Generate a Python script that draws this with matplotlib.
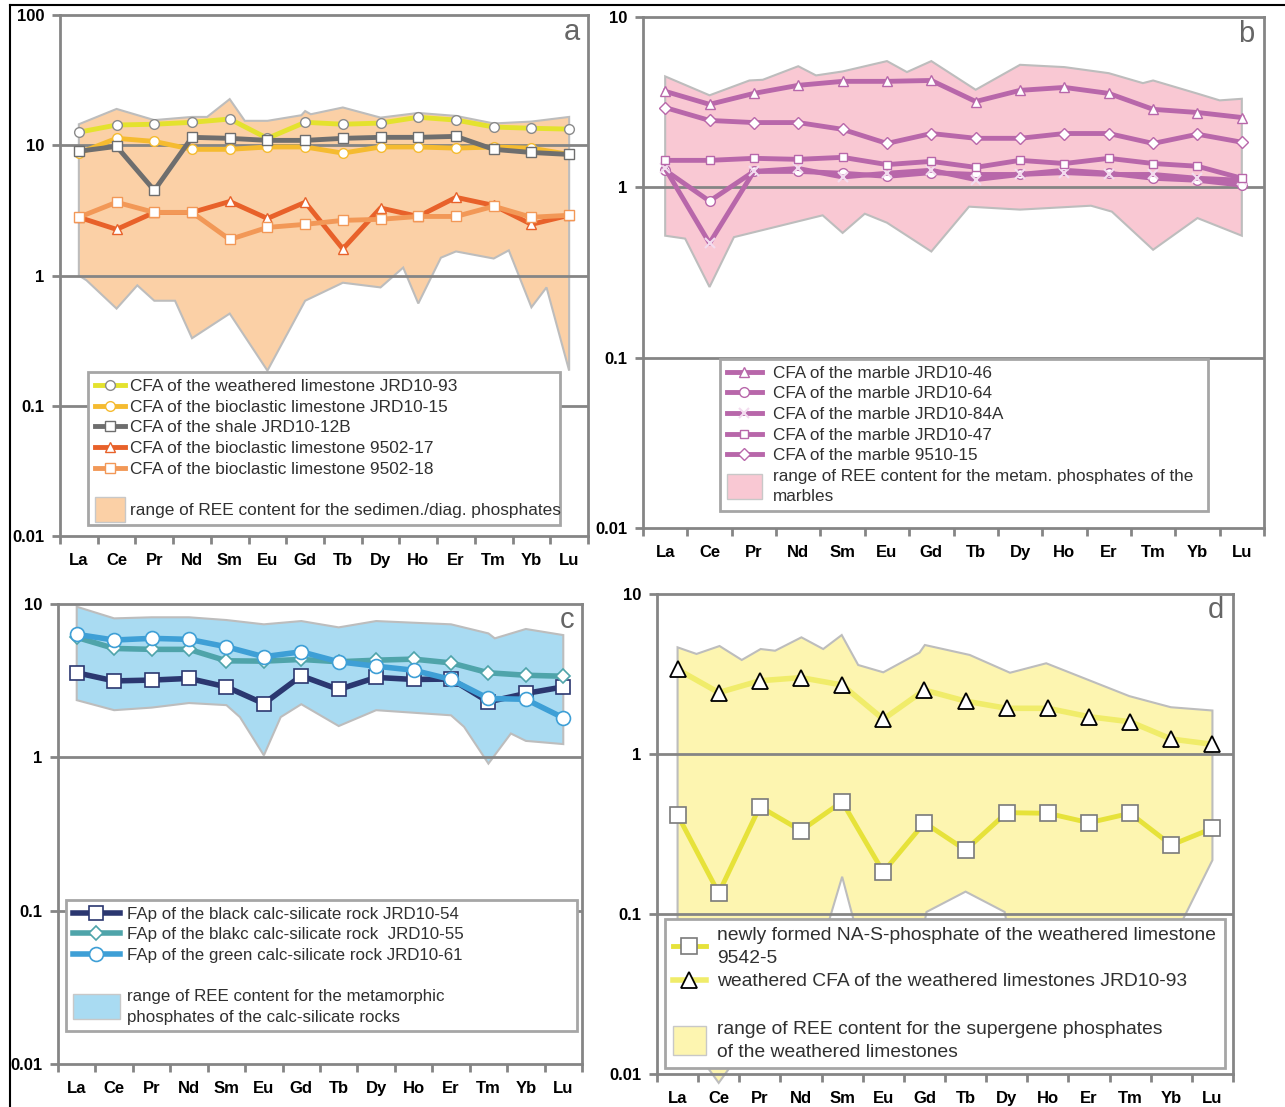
import numpy as np
import matplotlib.pyplot as plt
import matplotlib.patches as mpatches
from matplotlib.lines import Line2D
from matplotlib.legend_handler import HandlerPatch

plt.rcParams['font.family'] = ['Liberation Sans', 'DejaVu Sans']

W, H = 1285, 1107

ree = ['La', 'Ce', 'Pr', 'Nd', 'Sm', 'Eu', 'Gd', 'Tb', 'Dy', 'Ho', 'Er', 'Tm', 'Yb', 'Lu']

# panel a - sedimentary / diagenetic CFA
a_jrd10_93 = [12.6, 14.3, 14.5, 15.0, 15.9, 11.3, 15.0, 14.5, 14.8, 16.4, 15.6, 13.8, 13.5, 13.3]
a_jrd10_15 = [8.7, 11.3, 10.7, 9.3, 9.3, 9.7, 9.7, 8.7, 9.7, 9.7, 9.5, 9.7, 9.5, 8.5]
a_jrd10_12b = [9.0, 9.8, 4.5, 11.5, 11.3, 10.9, 10.9, 11.3, 11.5, 11.5, 11.7, 9.3, 8.8, 8.5]
a_9502_17 = [2.8, 2.26, 3.05, 3.05, 3.7, 2.74, 3.65, 1.6, 3.3, 2.84, 3.98, 3.45, 2.47, 2.9]
a_9502_18 = [2.8, 3.65, 3.05, 3.05, 1.89, 2.34, 2.47, 2.65, 2.7, 2.84, 2.84, 3.4, 2.8, 2.9]
a_up_x = [0, 1, 2, 3, 3.4, 4, 4.4, 5, 5.9, 6.0, 6.15, 7, 8, 9, 10, 11, 12, 13]
a_up = [14.5, 19.0, 15.6, 16.5, 16.5, 22.6, 15.4, 15.4, 17.0, 18.3, 17.3, 19.5, 16.3, 17.7, 16.8, 14.7, 15.2, 16.5]
a_lo_x = [0, 0.2, 1, 1.55, 2, 2.55, 3, 4, 5, 6, 7, 8, 8.6, 9, 9.6, 10, 11, 11.4, 12, 12.4, 13]
a_lo = [1.0, 0.92, 0.557, 0.84, 0.64, 0.64, 0.33, 0.51, 0.186, 0.64, 0.88, 0.81, 1.15, 0.61, 1.37,
        1.53, 1.35, 1.56, 0.57, 0.81, 0.186]

# panel b - marbles
b_jrd10_46 = [3.66, 3.07, 3.56, 3.97, 4.19, 4.19, 4.24, 3.19, 3.71, 3.86, 3.56, 2.87, 2.75, 2.57]
b_jrd10_64 = [1.26, 0.83, 1.24, 1.24, 1.21, 1.16, 1.22, 1.19, 1.19, 1.26, 1.21, 1.13, 1.10, 1.03]
b_jrd10_84a = [1.29, 0.47, 1.24, 1.29, 1.15, 1.21, 1.26, 1.11, 1.19, 1.22, 1.19, 1.19, 1.13, 1.10]
b_jrd10_47 = [1.44, 1.44, 1.48, 1.46, 1.50, 1.36, 1.42, 1.31, 1.44, 1.38, 1.48, 1.38, 1.33, 1.13]
b_9510_15 = [2.94, 2.47, 2.40, 2.40, 2.19, 1.81, 2.07, 1.94, 1.94, 2.07, 2.07, 1.81, 2.05, 1.84]
b_up_x = [0, 1, 1.9, 2.2, 3, 3.4, 4, 5, 5.45, 6, 7, 8, 9, 10, 10.77, 11, 12, 12.5, 13]
b_up = [4.48, 3.47, 4.24, 4.28, 5.14, 4.54, 4.79, 5.51, 4.75, 5.51, 3.74, 5.24, 5.08, 4.68, 4.09, 4.24,
        3.55, 3.24, 3.31]
b_lo_x = [0, 0.45, 1, 1.55, 3.55, 4, 4.5, 5, 6, 6.85, 8, 9.6, 10.07, 11, 12, 13]
b_lo = [0.52, 0.50, 0.26, 0.51, 0.685, 0.54, 0.70, 0.62, 0.42, 0.77, 0.74, 0.78, 0.72, 0.43, 0.66, 0.52]

# panel c - calc-silicate rocks
c_jrd10_54 = [3.56, 3.15, 3.19, 3.27, 2.88, 2.24, 3.40, 2.77, 3.32, 3.22, 3.24, 2.30, 2.61, 2.88]
c_jrd10_55 = [6.06, 5.13, 5.06, 5.06, 4.26, 4.24, 4.35, 4.20, 4.30, 4.37, 4.13, 3.56, 3.43, 3.38]
c_jrd10_61 = [6.34, 5.82, 5.97, 5.88, 5.26, 4.53, 4.88, 4.20, 3.93, 3.70, 3.22, 2.42, 2.39, 1.81]
c_up_x = [0, 1, 2, 3, 4, 5, 6, 7, 8, 9, 10, 11, 11.17, 12, 13]
c_up = [9.6, 8.06, 8.19, 8.19, 7.86, 7.37, 7.74, 7.04, 7.74, 7.55, 7.37, 6.43, 5.97, 6.87, 6.27]
c_lo_x = [0, 1, 2, 3, 4, 4.36, 5, 5.45, 6, 7, 8, 10, 10.35, 11, 11.6, 12, 13]
c_lo = [2.36, 2.03, 2.11, 2.26, 2.19, 1.83, 1.03, 1.83, 2.22, 1.60, 2.03, 1.88, 1.58, 0.91, 1.43, 1.28, 1.22]

# panel d - weathered limestones
d_jrd10_93 = [3.38, 2.42, 2.87, 3.0, 2.70, 1.65, 2.51, 2.14, 1.93, 1.93, 1.71, 1.59, 1.24, 1.15]
d_9542_5 = [0.416, 0.135, 0.469, 0.332, 0.503, 0.183, 0.372, 0.251, 0.430, 0.426, 0.372, 0.426, 0.27, 0.343]
d_up_x = [0, 0.46, 1.02, 1.56, 2.02, 2.37, 3.01, 3.54, 3.99, 4.39, 5.0, 5.88, 6.01, 7.1, 8.08, 8.96,
          10.98, 11.99, 13]
d_up = [4.64, 4.22, 4.73, 3.87, 4.53, 4.42, 5.36, 4.53, 5.54, 3.60, 3.24, 4.30, 4.80, 4.16, 3.22, 3.69,
        2.30, 1.96, 1.87]
d_lo_x = [0, 1, 2, 3.55, 4, 4.4, 5.93, 6.05, 7, 7.95, 8.07, 12.05, 13]
d_lo = [0.02, 0.0088, 0.02, 0.07, 0.171, 0.07, 0.07, 0.103, 0.138, 0.103, 0.07, 0.07, 0.217]

GRAY = '#858585'


def px_axes(l, r, t, b):
    return fig.add_axes([l / W, 1 - b / H, (r - l) / W, (b - t) / H])


def setup(ax, ymax, letter):
    x = np.arange(len(ree))
    ax.set_yscale('log')
    ax.set_ylim(0.01, ymax)
    ax.set_xlim(-0.5, len(ree) - 0.5)
    ax.set_xticks(x)
    ax.set_xticklabels(ree)
    ax.set_xticks(np.arange(len(ree) + 1) - 0.5, minor=True)
    ax.tick_params(axis='x', which='major', length=0, pad=12)
    ax.tick_params(axis='x', which='minor', length=6, width=2, color=GRAY)
    decades = [10.0 ** k for k in range(-2, int(round(np.log10(ymax))) + 1)]
    ax.set_yticks(decades)
    ax.set_yticklabels(['%g' % d for d in decades])
    ax.yaxis.set_minor_locator(plt.NullLocator())
    ax.tick_params(axis='y', length=6, width=2, color=GRAY, pad=5)
    for lab in ax.get_xticklabels() + ax.get_yticklabels():
        lab.set_fontweight('bold')
        lab.set_fontsize(12)
    for d in decades[1:-1]:
        ax.axhline(d, color=GRAY, lw=2, zorder=1.5)
    for s in ax.spines.values():
        s.set_color(GRAY)
        s.set_linewidth(2)
    ax.text(0.985, 0.995, letter, transform=ax.transAxes, ha='right', va='top',
            fontsize=21, color='#666666')


def envelope(ax, ux, uv, lx, lv, color, clip=True):
    xs = np.concatenate([ux, lx[::-1]])
    vs = np.concatenate([uv, lv[::-1]])
    ax.fill(xs, vs, facecolor=color, edgecolor='#bdbdbd', lw=1.5, zorder=1, clip_on=clip)


def big_patch(legend, orig_handle, xdescent, ydescent, width, height, fontsize):
    return mpatches.Rectangle((-xdescent, -ydescent - 0.55 * height), width, height * 2.1)


def legend(ax, handles, x0, x1, top, fs, hl, hp):
    blank = Line2D([], [], color='none')
    hs = [h if h is not None else blank for h in handles]
    labels = [h.get_label() if h is not None else ' ' for h in handles]
    leg = ax.legend(hs, labels, loc='upper left',
                    bbox_to_anchor=(x0 / W, 1 - top / H, (x1 - x0) / W, 0),
                    bbox_transform=fig.transFigure, mode='expand', borderaxespad=0,
                    fontsize=fs, frameon=True, fancybox=False, framealpha=1,
                    edgecolor='#a6a6a6', handlelength=hl, handletextpad=hp,
                    labelspacing=0.33, borderpad=0.4,
                    handler_map={mpatches.Patch: HandlerPatch(patch_func=big_patch)})
    leg.get_frame().set_linewidth(2)
    for t in leg.get_texts():
        t.set_color('#303030')
        t.set_linespacing(1.45)
    leg.set_zorder(10)
    return leg


fig = plt.figure(figsize=(W / 100, H / 100), dpi=100)
x = np.arange(len(ree))

# ---------------- a
ax = px_axes(60, 588, 15, 536)
setup(ax, 100, 'a')
envelope(ax, a_up_x, a_up, a_lo_x, a_lo, '#fbd0a6')
la1, = ax.plot(x, a_jrd10_93, '-o', color='#e4e22e', lw=3.5, ms=7, mfc='white', mec='#8a8a8a', mew=1,
               zorder=3, label='CFA of the weathered limestone JRD10-93')
la2, = ax.plot(x, a_jrd10_15, '-o', color='#f5bb30', lw=3.5, ms=7, mfc='white', mec='#f5bb30', mew=1,
               zorder=3, label='CFA of the bioclastic limestone JRD10-15')
la3, = ax.plot(x, a_jrd10_12b, '-s', color='#6e6e6e', lw=3.5, ms=7, mfc='white', mec='#6e6e6e', mew=1,
               zorder=3, label='CFA of the shale JRD10-12B')
la4, = ax.plot(x, a_9502_17, '-^', color='#e8612a', lw=3.5, ms=7, mfc='white', mec='#e8612a', mew=1,
               zorder=3, label='CFA of the bioclastic limestone 9502-17')
la5, = ax.plot(x, a_9502_18, '-s', color='#f29857', lw=3.5, ms=7, mfc='white', mec='#f29857', mew=1,
               zorder=3, label='CFA of the bioclastic limestone 9502-18')
pa = mpatches.Patch(facecolor='#fbd0a6', edgecolor='#c8c8c8',
                    label='range of REE content for the sedimen./diag. phosphates')
legend(ax, [la1, la2, la3, la4, la5, None, pa], 88, 560, 372, 12.4, 1.75, 0.3)

# ---------------- b
ax = px_axes(643, 1264, 17, 528)
setup(ax, 10, 'b')
envelope(ax, b_up_x, b_up, b_lo_x, b_lo, '#f9c8d3')
PURPLE = '#b867aa'
lb1, = ax.plot(x, b_jrd10_46, '-^', color=PURPLE, lw=3.5, ms=7, mfc='white', mec=PURPLE, mew=1,
               zorder=3, label='CFA of the marble JRD10-46')
lb2, = ax.plot(x, b_jrd10_64, '-o', color=PURPLE, lw=3.5, ms=7, mfc='white', mec=PURPLE, mew=1,
               zorder=3, label='CFA of the marble JRD10-64')
lb3, = ax.plot(x, b_jrd10_84a, '-x', color=PURPLE, lw=3.5, ms=7, mec='#f3dcef', mew=1.5,
               zorder=3, label='CFA of the marble JRD10-84A')
lb4, = ax.plot(x, b_jrd10_47, '-s', color=PURPLE, lw=3.5, ms=6, mfc='white', mec=PURPLE, mew=1,
               zorder=3, label='CFA of the marble JRD10-47')
lb5, = ax.plot(x, b_9510_15, '-D', color=PURPLE, lw=3.5, ms=6, mfc='white', mec=PURPLE, mew=1,
               zorder=3, label='CFA of the marble 9510-15')
pb = mpatches.Patch(facecolor='#f9c8d3', edgecolor='#c8c8c8',
                    label='range of REE content for the metam. phosphates of the\nmarbles')
legend(ax, [lb1, lb2, lb3, lb4, lb5, pb], 720, 1208, 359, 12.3, 2.05, 0.65)

# ---------------- c
ax = px_axes(58, 582, 604, 1064)
setup(ax, 10, 'c')
envelope(ax, c_up_x, c_up, c_lo_x, c_lo, '#a9dbf2')
lc1, = ax.plot(x, c_jrd10_54, '-s', color='#2b3770', lw=4, ms=10, mfc='white', mec='#2b3770', mew=1.2,
               zorder=3, label='FAp of the black calc-silicate rock JRD10-54')
lc2, = ax.plot(x, c_jrd10_55, '-D', color='#4fa4aa', lw=4, ms=7, mfc='white', mec='#4fa4aa', mew=1.2,
               zorder=3, label='FAp of the blakc calc-silicate rock  JRD10-55')
lc3, = ax.plot(x, c_jrd10_61, '-o', color='#3e9fd6', lw=4, ms=10, mfc='white', mec='#3e9fd6', mew=1.2,
               zorder=3, label='FAp of the green calc-silicate rock JRD10-61')
pc = mpatches.Patch(facecolor='#a9dbf2', edgecolor='#c8c8c8',
                    label='range of REE content for the metamorphic\nphosphates of the calc-silicate rocks')
legend(ax, [lc1, lc2, lc3, None, pc], 66, 577, 900, 12.2, 2.8, 0.4)

# ---------------- d
ax = px_axes(657, 1233, 594, 1074)
setup(ax, 10, 'd')
envelope(ax, d_up_x, d_up, d_lo_x, d_lo, '#fdf5b0', clip=False)
ld1, = ax.plot(x, d_9542_5, '-s', color='#e6e23a', lw=3.5, ms=11, mfc='white', mec='#7a7a7a', mew=1.2,
               zorder=3, label='newly formed NA-S-phosphate of the weathered limestone\n9542-5')
ld2, = ax.plot(x, d_jrd10_93, '-^', color='#f0ec6a', lw=4, ms=11, mfc='white', mec='black', mew=1.3,
               zorder=3, label='weathered CFA of the weathered limestones JRD10-93')
pd_ = mpatches.Patch(facecolor='#fdf5b0', edgecolor='#c8c8c8',
                     label='range of REE content for the supergene phosphates\nof the weathered limestones')
legend(ax, [ld1, ld2, None, pd_], 665, 1225, 919, 13.9, 1.7, 0.6)

# outer frame lines of the figure
fig.add_artist(Line2D([10 / W, 10 / W], [0, 1 - 5 / H], color='black', lw=1.5))
fig.add_artist(Line2D([10 / W, 1], [1 - 5 / H, 1 - 5 / H], color='black', lw=1.5))

fig.savefig('out.png', dpi=100)
